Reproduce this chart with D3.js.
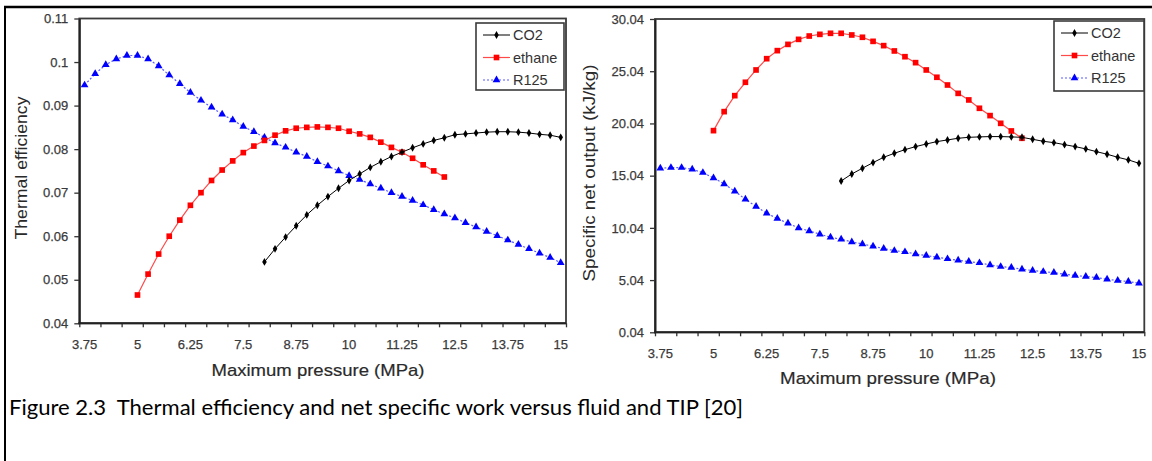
<!DOCTYPE html>
<html><head><meta charset="utf-8">
<script src="https://cdn.jsdelivr.net/npm/d3@7"></script>
<style>html,body{margin:0;padding:0;background:#fff}svg{display:block}</style>
</head><body>
<script>
// ---------- DATA ----------
const pressures = ["3.75","4","4.25","4.5","4.75","5","5.25","5.5","5.75","6","6.25","6.5","6.75","7","7.25","7.5","7.75","8","8.25","8.5","8.75","9","9.25","9.5","9.75","10","10.25","10.5","10.75","11","11.25","11.5","11.75","12","12.25","12.5","12.75","13","13.25","13.5","13.75","14","14.25","14.5","14.75","15"];
const xTickLabels = ["3.75","5","6.25","7.5","8.75","10","11.25","12.5","13.75","15"];
const seriesNames = ["CO2","ethane","R125"];
const seriesStart = {CO2:"8", ethane:"5", R125:"3.75"};

// Left chart: thermal efficiency
const effTickValues = [0.04,0.05,0.06,0.07,0.08,0.09,0.1,0.11];
const effTickLabels = ["0.04","0.05","0.06","0.07","0.08","0.09","0.1","0.11"];
const effCO2 = [0.0541,0.0571,0.0598,0.0624,0.0649,0.0671,0.0691,0.0710,0.0728,0.0743,0.0758,0.0771,0.0783,0.0793,0.0803,0.0812,0.0820,0.0826,0.0833,0.0835,0.0837,0.0839,0.0840,0.0840,0.0839,0.0837,0.0834,0.0832,0.0827];
const effEthane = [0.0465,0.0513,0.0559,0.0600,0.0637,0.0671,0.0700,0.0728,0.0752,0.0773,0.0792,0.0807,0.0820,0.0832,0.0842,0.0848,0.0850,0.0851,0.0850,0.0848,0.0841,0.0835,0.0827,0.0816,0.0804,0.0793,0.0779,0.0764,0.0750,0.0736];
const effR125 = [0.0947,0.0973,0.0994,0.1007,0.1015,0.1015,0.1007,0.0991,0.0970,0.0950,0.0930,0.0912,0.0896,0.0880,0.0867,0.0852,0.0840,0.0827,0.0814,0.0804,0.0793,0.0783,0.0771,0.0761,0.0750,0.0739,0.0730,0.0720,0.0710,0.0700,0.0691,0.0682,0.0672,0.0661,0.0651,0.0642,0.0631,0.0621,0.0611,0.0601,0.0591,0.0581,0.0571,0.0561,0.0551,0.0539];

// Right chart: specific net output
const outTickValues = [0.04,5.04,10.04,15.04,20.04,25.04,30.04];
const outTickLabels = ["0.04","5.04","10.04","15.04","20.04","25.04","30.04"];
const outCO2 = [14.53,15.20,15.75,16.29,16.80,17.18,17.53,17.82,18.07,18.30,18.46,18.62,18.71,18.75,18.78,18.78,18.75,18.71,18.52,18.33,18.20,18.01,17.82,17.60,17.34,17.09,16.80,16.55,16.22];
const outEthane = [19.35,21.17,22.70,23.98,25.16,26.24,27.01,27.61,28.09,28.41,28.57,28.67,28.67,28.51,28.29,27.90,27.49,26.98,26.43,25.86,25.16,24.46,23.72,22.92,22.29,21.49,20.79,20.05,19.32,18.62];
const outR125 = [15.75,15.81,15.81,15.65,15.33,14.82,14.25,13.54,12.78,12.08,11.44,10.93,10.48,10.03,9.75,9.43,9.14,8.95,8.69,8.50,8.28,8.06,7.86,7.74,7.54,7.39,7.23,7.07,6.94,6.81,6.69,6.49,6.33,6.24,6.08,5.95,5.85,5.76,5.60,5.47,5.38,5.28,5.12,5.00,4.90,4.74];

const caption = "Figure 2.3  Thermal efficiency and net specific work versus fluid and TIP [20]";

// ---------- STYLE ----------
const styles = {
  CO2:    {line:"#000000", width:1,   dash:null,  marker:"#000000", symbol:d3.symbolDiamond, size:18},
  ethane: {line:"#ff4a4a", width:1.2, dash:null,  marker:"#ff0000", symbol:d3.symbolSquare,  size:32},
  R125:   {line:"#5a5aff", width:1.2, dash:"2,2", marker:"#0000ff", symbol:d3.symbolTriangle, size:26}
};
const FONT = "'Liberation Sans', Arial, sans-serif";

const W = 1152, H = 461;
const svg = d3.select("body").append("svg").attr("width", W).attr("height", H);
svg.append("rect").attr("width", W).attr("height", H).attr("fill", "#fff");

// outer frame
svg.append("line").attr("x1", 4).attr("x2", W).attr("y1", 7).attr("y2", 7).attr("stroke", "#000").attr("stroke-width", 2.5);
svg.append("line").attr("x1", 5).attr("x2", 5).attr("y1", 6).attr("y2", H).attr("stroke", "#000").attr("stroke-width", 2);

function drawChart(cfg) {
  const g = svg.append("g");
  const x = d3.scaleBand().domain(pressures).range([cfg.left, cfg.right]).padding(0);
  const xb = d3.scaleLinear().domain([0, pressures.length]).range([cfg.left, cfg.right]);
  const y = d3.scaleLinear().domain(cfg.yDomain).range([cfg.bottom, cfg.top]);
  const cx = p => x(p) + x.bandwidth() / 2;

  // plot area frame
  g.append("rect").attr("x", cfg.left).attr("y", cfg.top)
    .attr("width", cfg.right - cfg.left).attr("height", cfg.bottom - cfg.top)
    .attr("fill", "none").attr("stroke", "#3a3a3a").attr("stroke-width", 1.8);

  // x boundary ticks every 2 categories
  const tickIdx = [];
  for (let i = 0; i <= pressures.length; i += 2) tickIdx.push(i);
  const xTicks = g.append("g").attr("transform", `translate(0,${cfg.bottom})`)
    .call(d3.axisBottom(xb).tickValues(tickIdx).tickFormat("").tickSize(4).tickSizeOuter(0));
  xTicks.select(".domain").remove();
  xTicks.selectAll("line").attr("stroke", "#333").attr("stroke-width", 1.3);

  // x labels
  const xLab = g.append("g").attr("transform", `translate(0,${cfg.bottom})`)
    .call(d3.axisBottom(x).tickValues(xTickLabels).tickSize(0).tickPadding(16));
  xLab.select(".domain").remove();
  xLab.selectAll("text").attr("font-family", FONT).attr("font-size", 13).attr("fill", "#3a3a3a")
    .attr("stroke", "#3a3a3a").attr("stroke-width", 0.25);

  // y axis
  const yAx = g.append("g").attr("transform", `translate(${cfg.left},0)`)
    .call(d3.axisLeft(y).tickValues(cfg.yTicks).tickFormat((d, i) => cfg.yLabels[i]).tickSize(5).tickSizeOuter(0).tickPadding(6));
  yAx.select(".domain").attr("stroke", "#222").attr("stroke-width", 2);
  yAx.selectAll("line").attr("stroke", "#333").attr("stroke-width", 1.3);
  yAx.selectAll("text").attr("font-family", FONT).attr("font-size", 13).attr("fill", "#3a3a3a")
    .attr("stroke", "#3a3a3a").attr("stroke-width", 0.25);

  // x axis line
  g.append("line").attr("x1", cfg.left - 1).attr("x2", cfg.right).attr("y1", cfg.bottom).attr("y2", cfg.bottom)
    .attr("stroke", "#222").attr("stroke-width", 2);

  // series
  const order = ["R125", "ethane", "CO2"];
  order.forEach(name => {
    const vals = cfg.series[name];
    const start = pressures.indexOf(seriesStart[name]);
    const pts = vals.map((v, i) => ({p: pressures[start + i], v}));
    const st = styles[name];
    g.append("path").datum(pts)
      .attr("d", d3.line().x(d => cx(d.p)).y(d => y(d.v)))
      .attr("fill", "none").attr("stroke", st.line).attr("stroke-width", st.width)
      .attr("stroke-dasharray", st.dash);
    g.selectAll(null).data(pts).enter().append("path")
      .attr("transform", d => `translate(${cx(d.p)},${y(d.v)})`)
      .attr("d", d3.symbol().type(st.symbol).size(st.size))
      .attr("fill", st.marker);
  });

  // legend
  const lg = g.append("g");
  lg.append("rect").attr("x", cfg.legend.x).attr("y", cfg.legend.y).attr("width", cfg.legend.w).attr("height", cfg.legend.h)
    .attr("fill", "#fff").attr("stroke", "#3a3a3a").attr("stroke-width", 1.6);
  seriesNames.forEach((name, i) => {
    const st = styles[name];
    const yy = cfg.legend.y + 12 + i * 22.5;
    const lx = cfg.legend.x + 7;
    lg.append("line").attr("x1", lx).attr("x2", lx + 27).attr("y1", yy).attr("y2", yy)
      .attr("stroke", st.line).attr("stroke-width", st.width).attr("stroke-dasharray", st.dash);
    lg.append("path").attr("transform", `translate(${lx + 13.5},${yy})`)
      .attr("d", d3.symbol().type(st.symbol).size(st.size)).attr("fill", st.marker);
    lg.append("text").attr("x", lx + 30).attr("y", yy).attr("dy", "0.36em")
      .attr("font-family", FONT).attr("font-size", 14.5).attr("fill", "#333").text(name);
  });

  // axis titles
  g.append("text").attr("x", cfg.xTitle.x).attr("y", cfg.xTitle.y).attr("text-anchor", "middle")
    .attr("font-family", FONT).attr("font-size", 17).attr("fill", "#2a2a2a")
    .attr("stroke", "#2a2a2a").attr("stroke-width", 0.2)
    .attr("textLength", cfg.xTitle.len).attr("lengthAdjust", "spacingAndGlyphs")
    .text("Maximum pressure (MPa)");
  g.append("text").attr("transform", `translate(${cfg.yTitle.x},${cfg.yTitle.y}) rotate(-90)`)
    .attr("text-anchor", "middle").attr("dy", "0.36em")
    .attr("font-family", FONT).attr("font-size", 17).attr("fill", "#2a2a2a")
    .attr("textLength", cfg.yTitle.len).attr("lengthAdjust", "spacingAndGlyphs")
    .text(cfg.yTitle.text);
}

drawChart({
  left: 79.3, right: 566, top: 18.5, bottom: 323.3,
  yDomain: [0.04, 0.11], yTicks: effTickValues, yLabels: effTickLabels,
  series: {CO2: effCO2, ethane: effEthane, R125: effR125},
  legend: {x: 476, y: 23, w: 88, h: 67},
  xTitle: {x: 318, y: 376, len: 213},
  yTitle: {x: 21, y: 168, len: 143, text: "Thermal efficiency"}
});

drawChart({
  left: 655, right: 1144.3, top: 19, bottom: 332.3,
  yDomain: [0.04, 30.04], yTicks: outTickValues, yLabels: outTickLabels,
  series: {CO2: outCO2, ethane: outEthane, R125: outR125},
  legend: {x: 1054, y: 21, w: 90, h: 70},
  xTitle: {x: 888, y: 384, len: 216},
  yTitle: {x: 589, y: 173, len: 217, text: "Specific net output (kJ/kg)"}
});

// caption
svg.append("text").attr("x", 9).attr("y", 415)
  .attr("font-family", "Lato, 'Open Sans', sans-serif").attr("font-size", 21).attr("fill", "#000")
  .style("white-space", "pre")
  .attr("textLength", 734).attr("lengthAdjust", "spacingAndGlyphs")
  .text(caption);
</script>
</body></html>
